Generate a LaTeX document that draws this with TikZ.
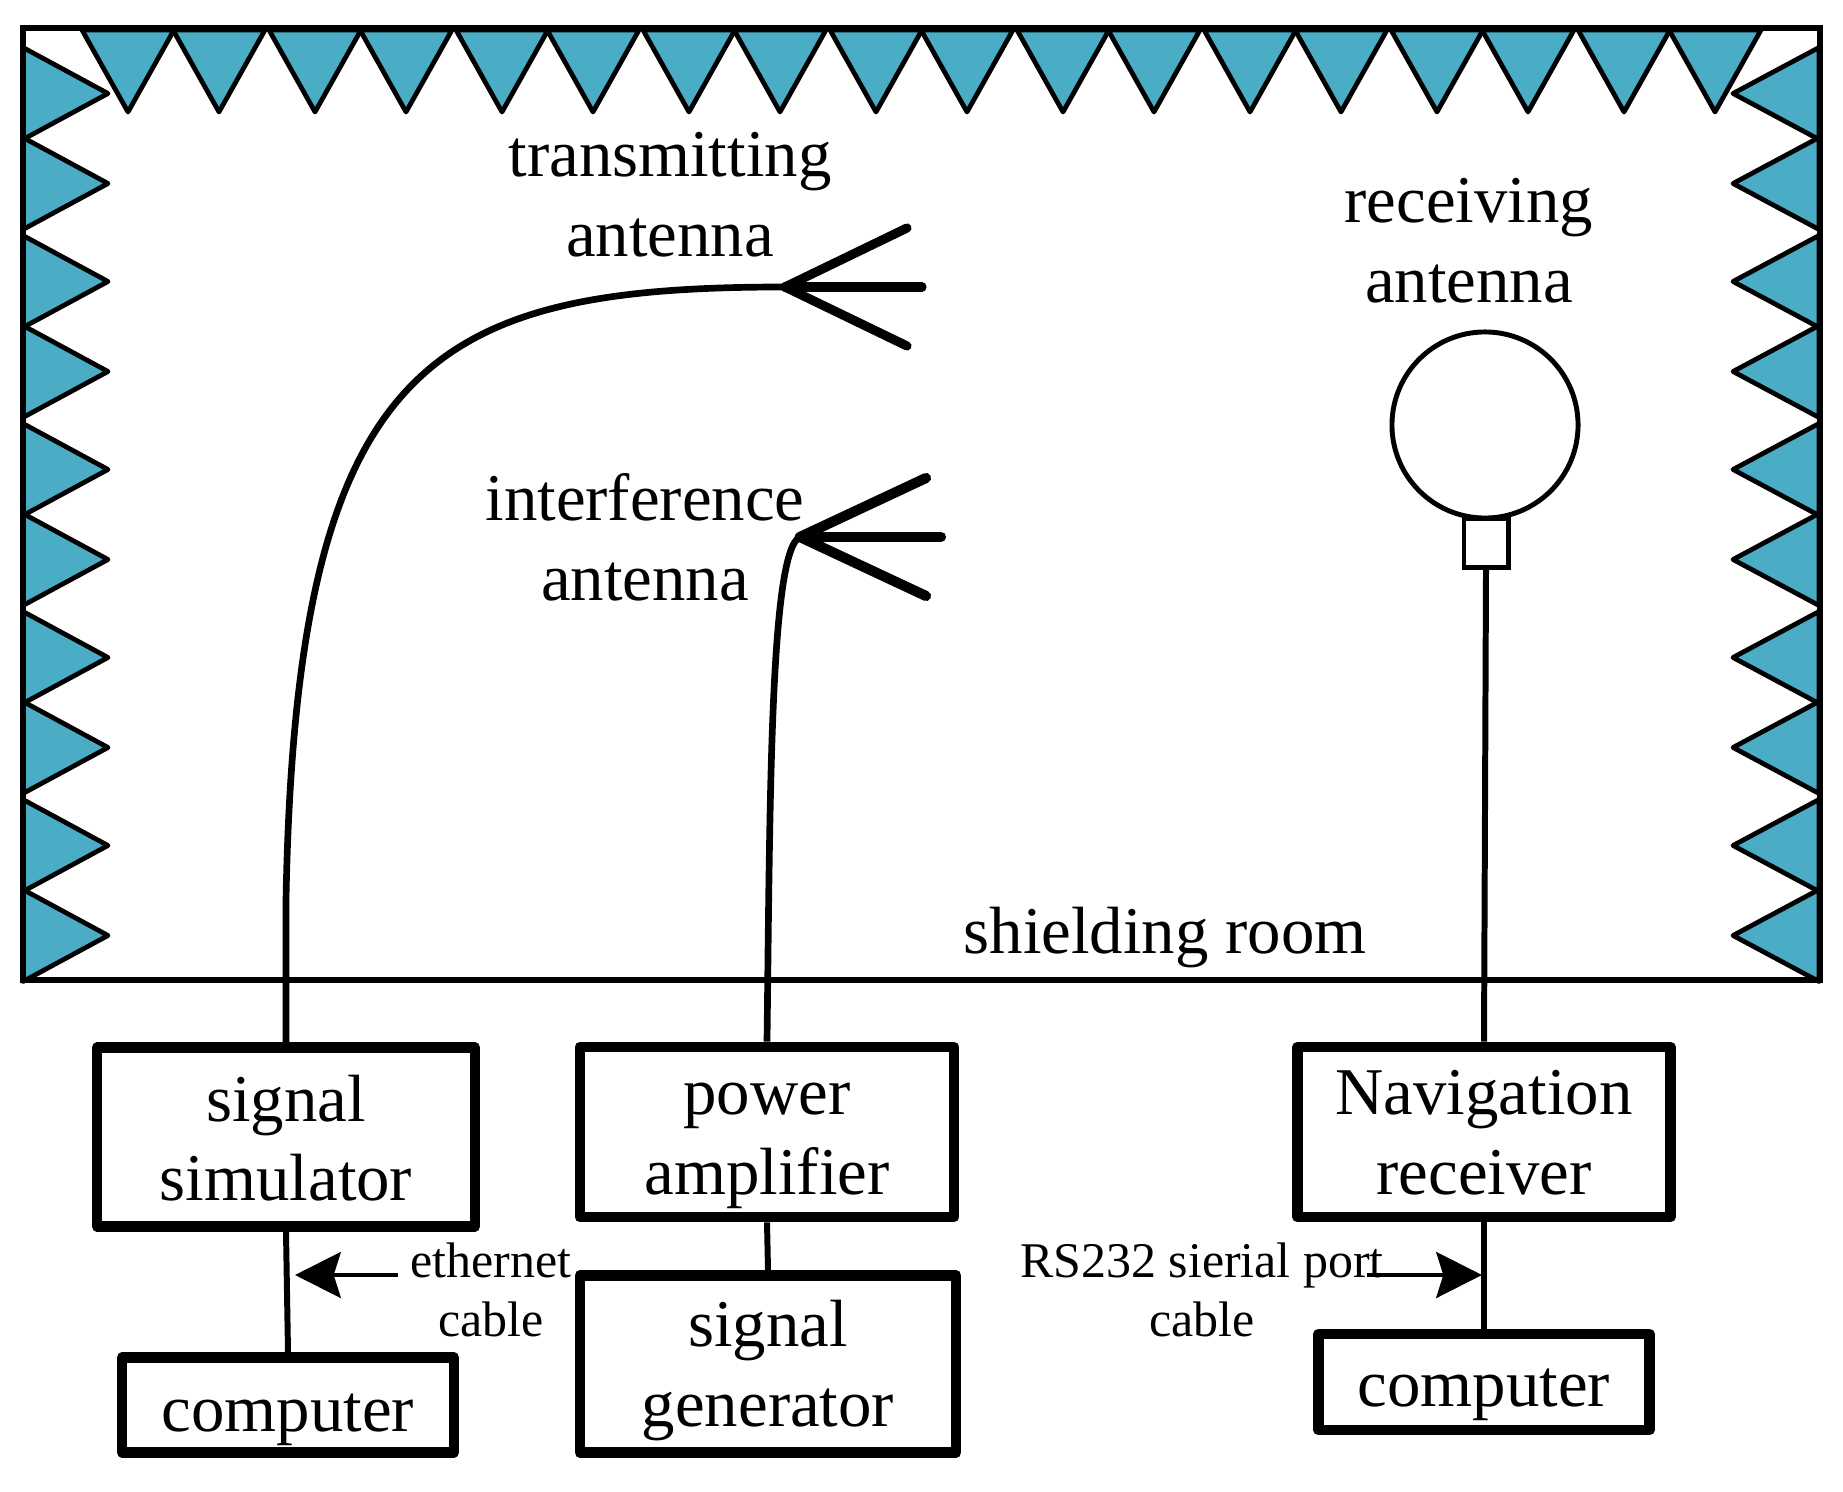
\documentclass[tikz,border=0pt]{standalone}
\usepackage{fontspec}
\setmainfont{Liberation Serif}
\usetikzlibrary{arrows.meta}
\definecolor{absorber}{HTML}{4BACC6}
\tikzset{
    wedge/.style={draw=black, fill=absorber, line width=1.35pt, line join=round},
    devbox/.style={draw=black, line width=3pt, line join=round, align=center,
        inner sep=0pt, font=\fontsize{19}{22.7}\selectfont},
    below base/.style={text height=#1, text depth=0pt},
    tag/.style={align=center, inner sep=0pt, font=\fontsize{19}{22.7}\selectfont},
    smalltag/.style={align=center, inner sep=0pt, font=\fontsize{14.2}{17}\selectfont},
    cable/.style={line width=1.7pt},
    feed/.style={line width=1.9pt},
    prong/.style={line cap=round},
    pointer/.style={line width=1.4pt, -{Stealth[length=13pt, width=13pt, inset=2pt]}}
}
\begin{document}
\begin{tikzpicture}[x=0.01cm, y=-0.01cm]
    \useasboundingbox (0,0) rectangle (1843,1492);
    \foreach \k in {0,...,8}
        \foreach \d in {0,91}
            \draw[wedge] ({82+187*\k+\d},30) -- ({128+187*\k+\d},112) -- ({174+187*\k+\d},30) -- cycle;
    \foreach \k in {0,...,4}
        \foreach \d in {0,90} {
            \draw[wedge] (23,{47.5+188*\k+\d}) -- (108,{93.5+188*\k+\d}) -- (23,{139.5+188*\k+\d}) -- cycle;
            \draw[wedge] (1819,{47.5+188*\k+\d}) -- (1733,{93.5+188*\k+\d}) -- (1819,{139.5+188*\k+\d}) -- cycle;
        }
    \draw[line width=1.6pt] (23,28) rectangle (1820,980);

    \node[devbox, below base=36.3pt, minimum width=3.775cm, minimum height=1.79cm] (simulator) at (286,1137) {signal\\simulator};
    \node[devbox, below base=35.7pt, minimum width=3.74cm, minimum height=1.70cm] (amplifier) at (767,1132) {power\\amplifier};
    \node[devbox, below base=35.7pt, minimum width=3.76cm, minimum height=1.77cm] (generator) at (768,1364) {signal\\generator};
    \node[devbox, below base=14.8pt, minimum width=3.315cm, minimum height=0.95cm] (computerL) at (288,1405) {computer};
    \node[devbox, below base=35.7pt, minimum width=3.73cm, minimum height=1.70cm] (navigation) at (1484,1132) {Navigation\\receiver};
    \node[devbox, below base=14.2pt, minimum width=3.31cm, minimum height=0.96cm] (computerR) at (1484,1382) {computer};

    \node[tag] (txlabel) at (670,195) {transmitting\\antenna};
    \node[tag] (jamlabel) at (645,537) {interference\\antenna};
    \node[tag] (rxlabel) at (1469,241) {receiving\\antenna};
    \node[tag] (roomlabel) at (1165,938) {shielding room};
    \node[smalltag] (ethlabel) at (491,1290) {ethernet\\cable};
    \node[smalltag] (rslabel) at (1202,1290) {RS232 sierial port\\cable};

    \coordinate (txhub) at (785,287);
    \coordinate (jamhub) at (800,537);
    \draw[feed] (simulator.north) -- (286,900) .. controls (296,360) and (430,287) .. (txhub);
    \draw[feed] (amplifier.north) .. controls (770,800) and (770,550) .. (jamhub);
    \foreach \tipx/\tipy in {907/228, 922/287, 907/346}
        \draw[prong, line width=2.6pt] (txhub) -- (\tipx,\tipy);
    \foreach \tipx/\tipy in {926/478, 941/537, 926/596}
        \draw[prong, line width=2.9pt] (jamhub) -- (\tipx,\tipy);

    \node[draw, circle, line width=1.4pt, minimum size=1.86cm, inner sep=0pt] (loop) at (1485,425) {};
    \node[draw, line width=1.4pt, minimum width=0.44cm, minimum height=0.49cm, inner sep=0pt] (balun) at (1486,543) {};
    \draw[cable] (balun.south) -- (navigation.north);

    \draw[cable] (simulator.south) -- (computerL.north);
    \draw[cable] (amplifier.south) -- (generator.north);
    \draw[cable] (navigation.south) -- (computerR.north);

    \coordinate (ethstart) at (398,1275);
    \coordinate (ethtip) at (295,1275);
    \coordinate (rsstart) at (1367,1275);
    \coordinate (rstip) at (1482,1275);
    \draw[pointer] (ethstart) -- (ethtip);
    \draw[pointer] (rsstart) -- (rstip);
\end{tikzpicture}
\end{document}
